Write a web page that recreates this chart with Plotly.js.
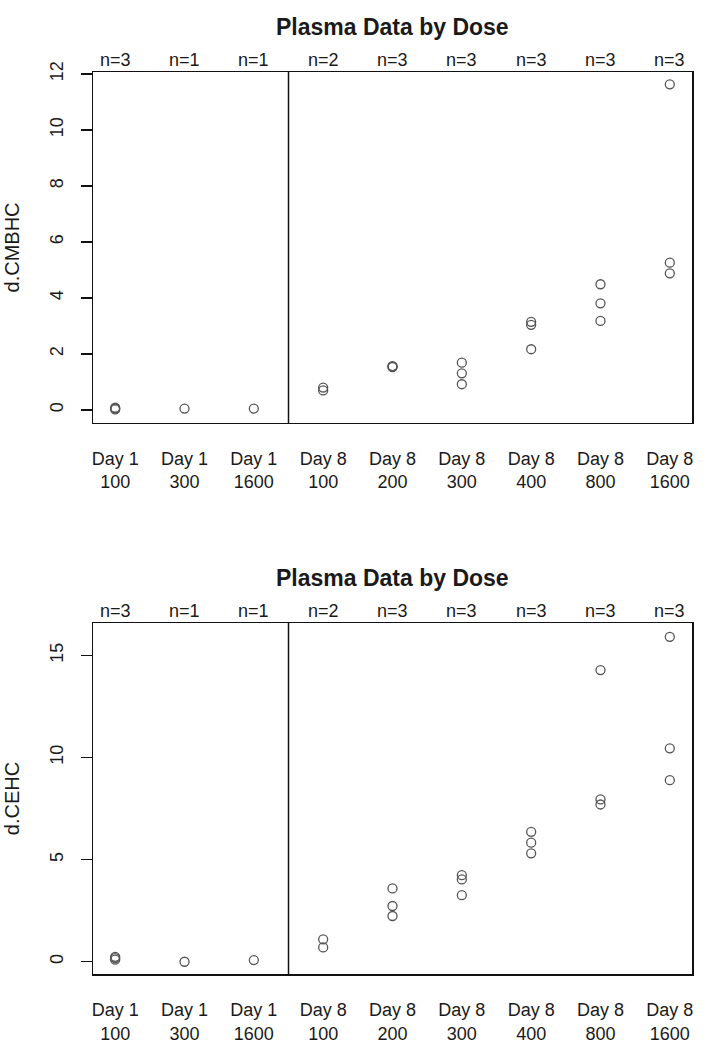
<html><head>
<title>Plasma Data by Dose</title>
<script src="https://cdn.plot.ly/plotly-3.0.1.min.js"></script>
<style>
  body { margin: 0; padding: 0; background: white; }
  #chart { width: 714px; height: 1048px; }
</style>
</head>
<body>
<div id="chart"></div>
<script>
// groups: day + dose
const categories = ['Day 1<br>100', 'Day 1<br>300', 'Day 1<br>1600', 'Day 8<br>100', 'Day 8<br>200',
                    'Day 8<br>300', 'Day 8<br>400', 'Day 8<br>800', 'Day 8<br>1600'];

// values, one list per group
const cmbhc = [[0.02, 0.05, 0.08], [0.05], [0.05], [0.7, 0.8], [1.53, 1.55, 1.57],
               [0.92, 1.31, 1.69], [2.17, 3.04, 3.15], [3.18, 3.81, 4.49], [4.88, 5.26, 11.63]];
const cehc = [[0.1, 0.18, 0.24], [0.0], [0.08], [0.7, 1.1], [2.24, 2.73, 3.59],
              [3.26, 4.03, 4.24], [5.31, 5.83, 6.36], [7.7, 7.95, 14.28], [8.89, 10.45, 15.91]];

const FONT = 'Liberation Sans, Arial, sans-serif';
const TXT = '#1a1a1a';

function pointsTrace(groups, xa, ya) {
  const x = [], y = [];
  groups.forEach((vals, i) => vals.forEach(v => { x.push(i + 1); y.push(v); }));
  return {
    x: x, y: y, xaxis: xa, yaxis: ya,
    type: 'scatter', mode: 'markers', showlegend: false, hoverinfo: 'y',
    marker: { symbol: 'circle-open', size: 9, color: '#555', line: { width: 1.3 } }
  };
}

function nLabels(groups, xref, yref) {
  return groups.map((vals, i) => ({
    x: i + 1, y: 1, xref: xref, yref: yref,
    yanchor: 'bottom', yshift: 0, showarrow: false,
    text: 'n=' + vals.length, font: { family: FONT, size: 18, color: TXT }
  }));
}

const xCommon = {
  range: [0.68, 9.32], tickvals: categories.map((_, i) => i + 1), ticktext: categories,
  showline: true, mirror: true, linecolor: '#111', linewidth: 1.5, zeroline: false,
  showgrid: false, ticks: '', ticklabelstandoff: 19,
  tickfont: { family: FONT, size: 18, color: TXT }
};
const yCommon = {
  showline: true, mirror: true, linecolor: '#111', linewidth: 1.5, zeroline: false,
  showgrid: false, ticks: 'outside', ticklen: 11, tickwidth: 1.3, tickcolor: '#111',
  tickangle: -90, ticklabelstandoff: 10, tickfont: { family: FONT, size: 18, color: TXT }
};

const data = [pointsTrace(cmbhc, 'x', 'y'), pointsTrace(cehc, 'x2', 'y2')];

const layout = {
  width: 714, height: 1048,
  margin: { l: 93, r: 22, t: 72, b: 74 },
  paper_bgcolor: 'white', plot_bgcolor: 'white',
  xaxis: Object.assign({}, xCommon, { anchor: 'y' }),
  yaxis: Object.assign({}, yCommon, {
    domain: [0.611, 1], range: [-0.46, 12.07], tickvals: [0, 2, 4, 6, 8, 10, 12], anchor: 'x',
    title: { text: 'd.CMBHC', standoff: 22, font: { family: FONT, size: 20, color: TXT } }
  }),
  xaxis2: Object.assign({}, xCommon, { anchor: 'y2' }),
  yaxis2: Object.assign({}, yCommon, {
    domain: [0, 0.389], range: [-0.6, 16.58], tickvals: [0, 5, 10, 15], anchor: 'x2',
    title: { text: 'd.CEHC', standoff: 22, font: { family: FONT, size: 20, color: TXT } }
  }),
  shapes: [
    { type: 'line', xref: 'x', yref: 'y domain', x0: 3.5, x1: 3.5, y0: 0, y1: 1, line: { color: '#111', width: 1.5 } },
    { type: 'line', xref: 'x2', yref: 'y2 domain', x0: 3.5, x1: 3.5, y0: 0, y1: 1, line: { color: '#111', width: 1.5 } }
  ],
  annotations: [
    { text: '<b>Plasma Data by Dose</b>', xref: 'paper', yref: 'paper', x: 0.5, y: 1.05,
      yanchor: 'middle', showarrow: false, font: { family: FONT, size: 23, color: TXT } },
    { text: '<b>Plasma Data by Dose</b>', xref: 'paper', yref: 'paper', x: 0.5, y: 0.4385,
      yanchor: 'middle', showarrow: false, font: { family: FONT, size: 23, color: TXT } }
  ].concat(nLabels(cmbhc, 'x', 'y domain'), nLabels(cehc, 'x2', 'y2 domain'))
};

Plotly.newPlot('chart', data, layout, { displayModeBar: false, staticPlot: true });
</script>
</body></html>
